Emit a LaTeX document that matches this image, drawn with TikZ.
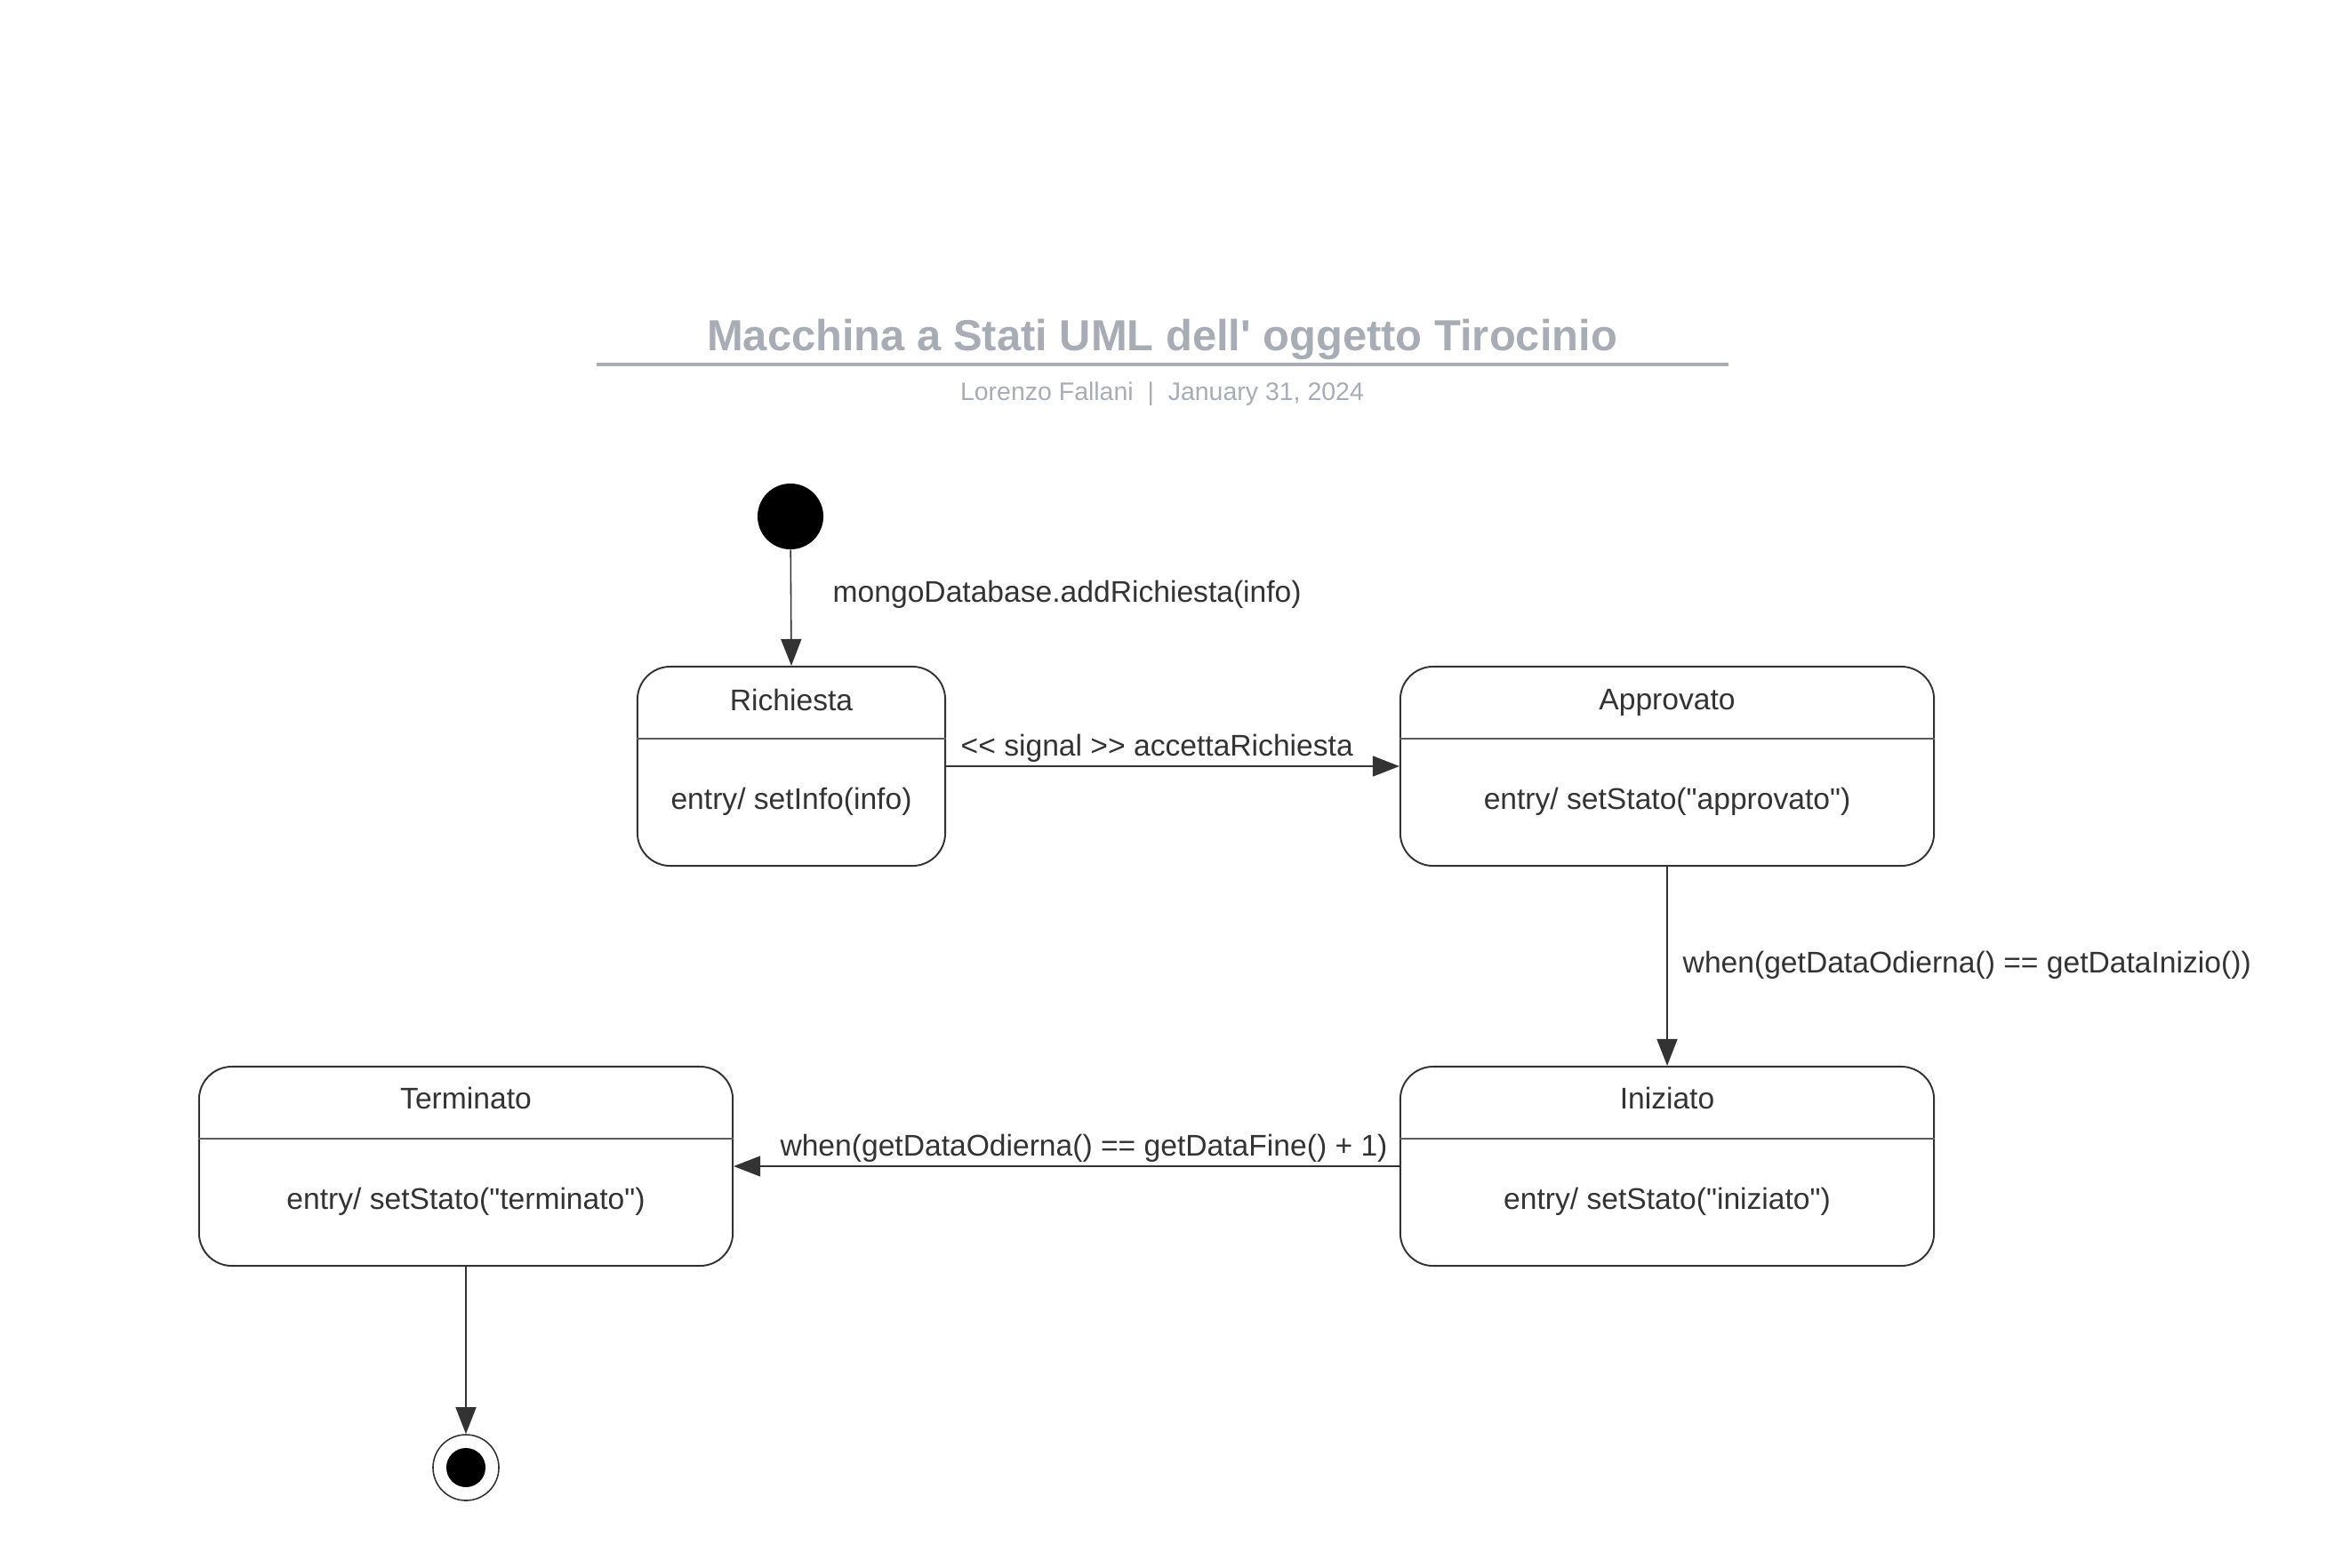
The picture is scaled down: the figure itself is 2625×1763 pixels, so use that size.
\documentclass[tikz,border=0pt]{standalone}
\usepackage{fontspec}
\newfontfamily\uifont{Liberation Sans}
\usetikzlibrary{arrows.meta}
\definecolor{ink}{HTML}{333333}
\definecolor{titlegrey}{HTML}{A7ACB5}
\begin{document}
\begin{tikzpicture}[x=0.01cm,y=-0.01cm,
  statebox/.style={draw=ink, line width=0.55pt, rounded corners=0.37cm, inner sep=0pt, minimum height=2.24cm},
  lbl/.style={text=ink, font=\uifont\fontsize{9.56}{11}\selectfont, inner sep=0pt},
  trans/.style={draw=ink, line width=0.45pt, -{Triangle[length=0.3cm,width=0.23cm]}},
  divline/.style={draw=ink!80, line width=0.35pt}
]
\useasboundingbox (0,0) rectangle (2625,1763);
% title
\node[text=titlegrey, font=\uifont\fontsize{13.9}{16}\selectfont\bfseries, inner sep=0pt] (title) at (1307,382) {Macchina a Stati UML dell' oggetto Tirocinio};
\coordinate (tl) at (671,410);
\coordinate (tr) at (1944,410);
\draw[titlegrey, line width=1.4pt] (tl) -- (tr);
\node[text=titlegrey, font=\uifont\fontsize{8.1}{10}\selectfont, inner sep=0pt] (sub) at (1307,443) {Lorenzo Fallani\hspace{4.5pt}|\hspace{4.5pt}January 31, 2024};

% states
\node[statebox, minimum width=3.46cm] (ric) at (890,862) {};
\node[statebox, minimum width=6.00cm] (app) at (1875,862) {};
\node[statebox, minimum width=6.00cm] (ini) at (1875,1312) {};
\node[statebox, minimum width=6.00cm] (term) at (524,1312) {};

\foreach \s in {ric,app,ini,term}{
  \draw[divline] ([yshift=-0.82cm]\s.north west) -- ([yshift=-0.82cm]\s.north east);
}

\node[lbl] (ricT) at (890,787) {Richiesta};
\node[lbl] (ricE) at (890,902) {entry/ setInfo(info)};
\node[lbl] (appT) at (1875,790) {Approvato};
\node[lbl] (appE) at (1875,902) {entry/ setStato("approvato")};
\node[lbl] (iniT) at (1875,1235) {Iniziato};
\node[lbl] (iniE) at (1875,1352) {entry/ setStato("iniziato")};
\node[lbl] (termT) at (524,1235) {Terminato};
\node[lbl] (termE) at (524,1352) {entry/ setStato("terminato")};

% initial and final
\node[circle, fill=black, minimum size=0.74cm, inner sep=0pt] (init) at (889,581) {};
\node[circle, draw=ink, line width=0.45pt, minimum size=0.74cm, inner sep=0pt] (fin) at (524,1651) {};
\node[circle, fill=black, minimum size=0.44cm, inner sep=0pt] (finin) at (524,1651) {};

% transitions
\draw[trans] (init) -- (ric.north);
\draw[trans] (ric.east) -- (app.west);
\draw[trans] (app.south) -- (ini.north);
\draw[trans] (ini.west) -- (term.east);
\draw[trans] (term.south) -- (fin.north);

% transition labels
\node[lbl, anchor=west] (l1) at (936,669) {mongoDatabase.addRichiesta(info)};
\node[lbl, anchor=west] (l2) at (1080,842) {<< signal >> accettaRichiesta};
\node[lbl, anchor=west] (l3) at (1892,1086) {when(getDataOdierna() == getDataInizio())};
\node[lbl] (l4) at (1219,1292) {when(getDataOdierna() == getDataFine() + 1)};
\end{tikzpicture}
\end{document}
